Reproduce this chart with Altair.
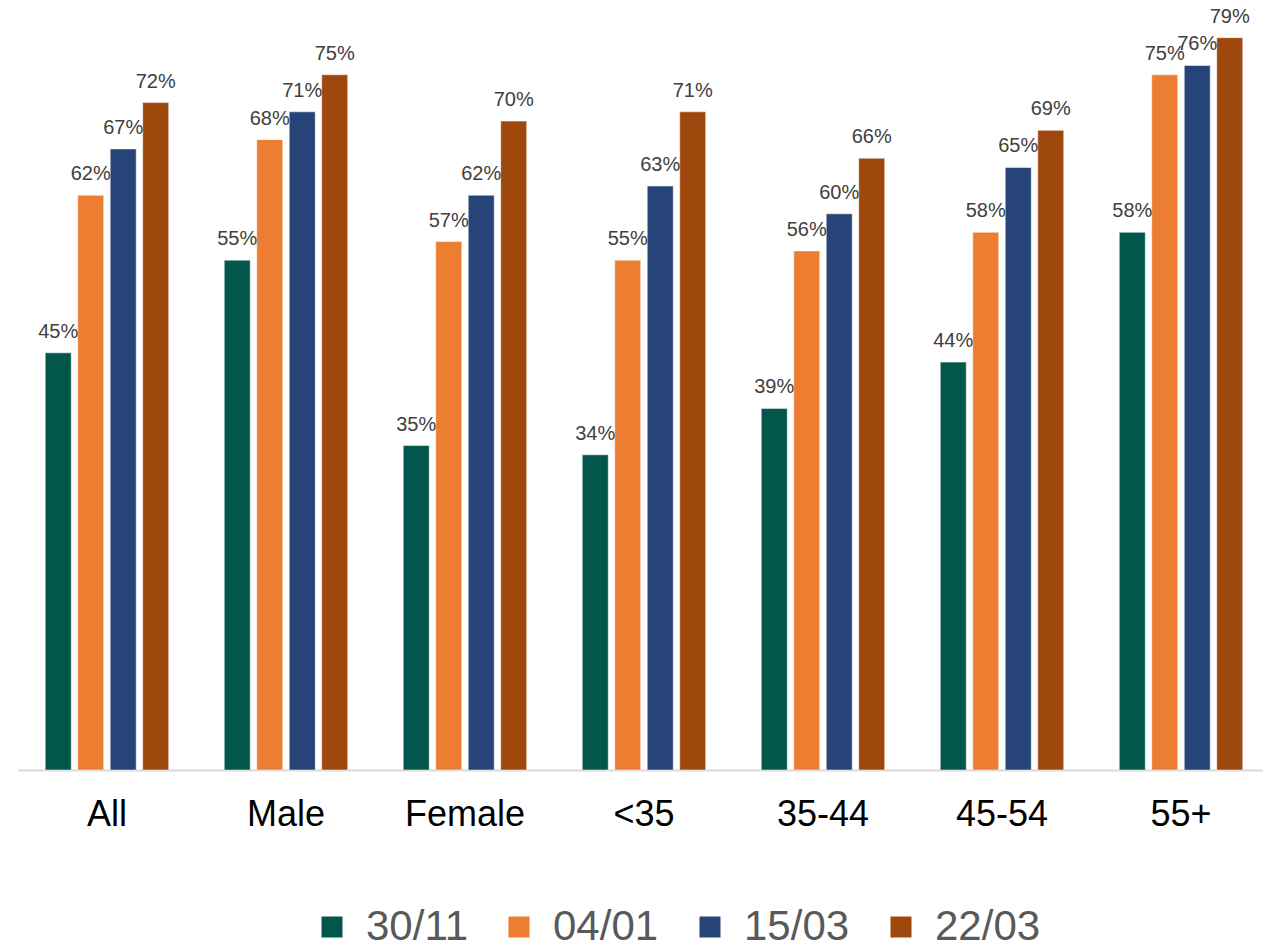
import altair as alt
import pandas as pd

categories = ["All", "Male", "Female", "<35", "35-44", "45-54", "55+"]
series = ["30/11", "04/01", "15/03", "22/03"]
colors = ["#03564C", "#ED7D31", "#264478", "#9E480E"]

v_3011 = [45, 55, 35, 34, 39, 44, 58]
v_0401 = [62, 68, 57, 55, 56, 58, 75]
v_1503 = [67, 71, 62, 63, 60, 65, 76]
v_2203 = [72, 75, 70, 71, 66, 69, 79]

rows = []
for s, vals in zip(series, [v_3011, v_0401, v_1503, v_2203]):
    for c, v in zip(categories, vals):
        rows.append({"cat": c, "series": s, "value": v / 100, "label": f"{v}%"})
df = pd.DataFrame(rows)

FONT = "Liberation Sans"

x_enc = alt.X("cat:N", sort=categories, title=None,
              scale=alt.Scale(paddingInner=0.274, paddingOuter=0.1145, align=0.585),
              axis=alt.Axis(labelAngle=0, labelFontSize=36, labelColor="#000000",
                            labelFont=FONT, ticks=False, domainColor="#D9D9D9",
                            domainWidth=2, labelPadding=27, grid=False))
xoff_enc = alt.XOffset("series:N", sort=series,
                       scale=alt.Scale(paddingInner=0.2, paddingOuter=0.1))
y_enc = alt.Y("value:Q", scale=alt.Scale(domain=[0, 0.822], nice=False),
              axis=None, title=None)

bars = alt.Chart(df).mark_bar(stroke="white", strokeWidth=0.5).encode(
    x=x_enc,
    xOffset=xoff_enc,
    y=y_enc,
    color=alt.Color("series:N", sort=series,
                    scale=alt.Scale(domain=series, range=colors),
                    legend=alt.Legend(title=None, orient="none", direction="horizontal",
                                      legendX=293, legendY=898,
                                      symbolType="square", symbolSize=441,
                                      symbolStrokeWidth=0, labelFontSize=42,
                                      labelFont=FONT, labelColor="#595959",
                                      labelOffset=13, columnPadding=30, padding=0,
                                      labelLimit=300)),
)

labels = alt.Chart(df).mark_text(baseline="alphabetic", dy=-15, fontSize=20,
                                  font=FONT, color="#404040").encode(
    x=alt.X("cat:N", sort=categories),
    xOffset=alt.XOffset("series:N", sort=series),
    y=alt.Y("value:Q"),
    text="label:N",
)

chart = alt.layer(bars, labels).properties(
    width=1245, height=762,
    padding={"left": 10, "top": 0, "right": 0, "bottom": 175},
    autosize=alt.AutoSizeParams(type="none"),
).configure_view(stroke=None)

chart.save("out.html", embed_options={"renderer": "svg", "actions": False})
